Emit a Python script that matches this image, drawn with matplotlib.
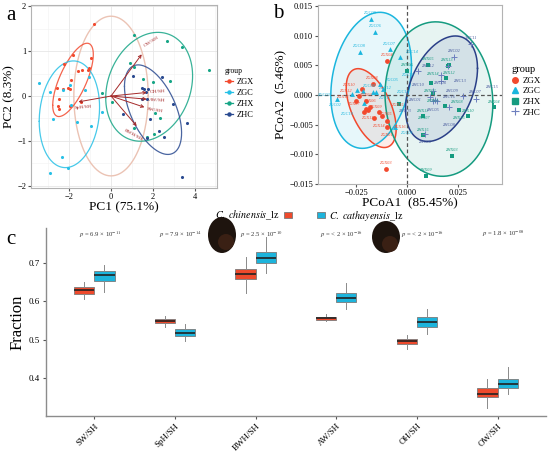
import numpy as np
import matplotlib
matplotlib.use("Agg")
import matplotlib.pyplot as plt
from matplotlib.lines import Line2D
from matplotlib.patches import Patch, Ellipse

plt.rcParams['font.family'] = ['Liberation Serif', 'DejaVu Serif']
plt.rcParams['mathtext.fontset'] = 'stix'

# ---------------- panel a : PCA biplot ----------------
grp_names = ["ZGX", "ZGC", "ZHX", "ZHC"]
col_a = {"ZGX": "#F2492E", "ZGC": "#27C0E6", "ZHX": "#16A586", "ZHC": "#2A4A90"}

pca_zgx_x = [-0.80, -1.82, -2.26, -1.39, -1.58, -0.96, -1.06, -1.12, -1.92, -2.08,
             -1.98, -2.29, -2.59, -2.51, -2.54, -2.48, -1.94, -1.44]
pca_zgx_y = [1.60, 0.92, 0.71, 0.57, 0.55, 0.85, 0.62, 0.59, 0.36, 0.17,
             0.15, 0.15, 0.17, -0.07, -0.23, -0.28, -0.22, -0.13]
pca_zgc_x = [-3.44, -2.94, -2.29, -1.95, -1.04, -1.23, -1.92, -2.77, -1.62, -0.98,
             -2.34, -2.05, -2.91, -0.42]
pca_zgc_y = [0.28, 0.08, 0.13, 0.25, 0.43, 0.13, -0.19, -0.52, -0.57, -0.67,
             -1.36, -1.60, -1.72, -0.36]
pca_zhx_x = [1.12, 2.67, 3.39, 4.67, 0.91, 1.09, 1.52, 2.03, 2.83, -0.42,
             0.06, 2.11, 2.35, 1.09, 2.06, 1.73]
pca_zhx_y = [1.35, 1.22, 1.10, 0.59, 0.74, 0.65, 0.39, 0.32, 0.33, 0.07,
             -0.14, -0.37, -0.48, -0.72, -0.84, -0.91]
pca_zhc_x = [1.07, 2.43, 1.47, 1.60, 1.76, 1.66, 1.47, 1.74, 2.99, 0.56,
             1.86, 3.63, 2.29, 2.53, 1.73, 3.39]
pca_zhc_y = [0.44, 0.42, 0.17, 0.15, 0.15, 0.09, -0.07, -0.07, -0.18, -0.39,
             -0.52, -0.61, -0.78, -0.92, -0.94, -1.80]

load_names = ["OW/SH", "OH/SH", "AW/SH", "SW/SH", "BWH/SH", "SpH/SH"]
load_x = [1.47, 1.71, 1.71, 1.60, 1.23, -1.56]
load_y = [0.93, 0.08, -0.07, -0.25, -0.67, -0.13]
circle_r = 1.78
ellipse_prob_a = 0.75

# ---------------- panel b : PCoA ----------------
col_b = {"ZGX": "#F2492E", "ZGC": "#1BB6DE", "ZHX": "#159B80", "ZHC": "#2A3F88"}
pcoa_zgx_lab = ["ZGX04", "ZGX08", "ZGX10", "ZGX12", "ZGX13", "ZGX02", "ZGX06", "ZGX07",
                "ZGX09", "ZGX11", "ZGX05", "ZGX14", "ZGX15", "ZGX16", "ZGX01", "ZGX03"]
pcoa_zgx_x = [-0.0097, -0.0170, -0.0224, -0.0236, -0.0252, -0.0200, -0.0183, -0.0200,
              -0.0211, -0.0192, -0.0162, -0.0138, -0.0126, -0.0097, -0.0097, -0.0105]
pcoa_zgx_y = [0.0058, 0.0019, 0.0010, -0.0001, -0.0011, -0.0010, -0.0020, -0.0023,
              -0.0028, -0.0025, -0.0039, -0.0029, -0.0035, -0.0044, -0.0054, -0.0125]
pcoa_zgc_lab = ["ZGC09", "ZGC06", "ZGC08", "ZGC07", "ZGC14", "ZGC05", "ZGC04", "ZGC02",
                "ZGC11", "ZGC12", "ZGC13", "ZGC03", "ZGC10", "ZGC15", "ZGC01"]
pcoa_zgc_x = [-0.0179, -0.0156, -0.0233, -0.0085, -0.0036, -0.0134, -0.0249, -0.0273,
              -0.0216, -0.0170, -0.0154, -0.0344, -0.0211, -0.0117, -0.0060]
pcoa_zgc_y = [0.0129, 0.0107, 0.0073, 0.0077, 0.0065, 0.0018, 0.00085, 0.0001,
              0.0007, 0.0005, 0.0005, -0.0007, -0.0014, 0.0010, -0.0055]
pcoa_zhx_lab = ["ZHX05", "ZHX13", "ZHX12", "ZHX14", "ZHX02", "ZHX01", "ZHX08", "ZHX16",
                "ZHX10", "ZHX04", "ZHX11", "ZHX15", "ZHX03", "ZHX09", "ZHX06", "ZHX07"]
pcoa_zhx_x = [0.0105, 0.0199, 0.0207, 0.0190, 0.0115, 0.0128, 0.0185, 0.0256,
              0.0300, 0.0428, 0.0079, 0.0079, 0.0221, 0.0092, 0.0000, -0.0041]
pcoa_zhx_y = [0.0051, 0.0049, 0.0051, 0.0028, 0.0021, 0.0004, -0.0019, -0.0025,
              -0.0036, -0.0021, -0.0036, -0.0068, -0.0103, -0.0137, 0.0041, -0.0016]
pcoa_zhc_lab = ["ZHC11", "ZHC02", "ZHC12", "ZHC04", "ZHC13", "ZHC10", "ZHC09", "ZHC01",
                "ZHC16", "ZHC05", "ZHC07", "ZHC15", "ZHC08", "ZHC06", "ZHC03"]
pcoa_zhc_x = [0.0313, 0.0231, 0.0202, 0.0166, 0.0166, 0.0054, 0.0128, 0.0136,
              0.0148, 0.0128, 0.0275, 0.0338, 0.0207, 0.0090, 0.0112]
pcoa_zhc_y = [0.0087, 0.0065, 0.0049, 0.0034, 0.0024, 0.0041, 0.0007, -0.0008,
              -0.0010, -0.0011, -0.0002, -0.0006, -0.0021, -0.0066, -0.0004]

# ---------------- panel c : boxplots ----------------
ratios = ["SW/SH", "SpH/SH", "BWH/SH", "AW/SH", "OH/SH", "OW/SH"]
# order: whislo, q1, med, q3, whishi
chin_box = [[0.605, 0.618, 0.628, 0.636, 0.650],
            [0.534, 0.543, 0.549, 0.554, 0.562],
            [0.622, 0.657, 0.670, 0.684, 0.715],
            [0.548, 0.550, 0.556, 0.560, 0.567],
            [0.477, 0.489, 0.496, 0.503, 0.512],
            [0.323, 0.351, 0.360, 0.374, 0.399]]
cath_box = [[0.625, 0.653, 0.668, 0.679, 0.693],
            [0.497, 0.509, 0.518, 0.528, 0.541],
            [0.673, 0.699, 0.712, 0.728, 0.767],
            [0.580, 0.599, 0.609, 0.621, 0.647],
            [0.516, 0.532, 0.546, 0.558, 0.579],
            [0.360, 0.375, 0.386, 0.399, 0.428]]
pvals = [r"$\it{p}$ = 6.9 × 10$^{-11}$", r"$\it{p}$ = 7.9 × 10$^{-14}$",
         r"$\it{p}$ = 2.5 × 10$^{-10}$", r"$\it{p}$ = < 2 × 10$^{-16}$",
         r"$\it{p}$ = < 2 × 10$^{-16}$", r"$\it{p}$ = 1.8 × 10$^{-08}$"]
sp_names = [r"$\it{C.\ chinensis}$_lz", r"$\it{C.\ cathayensis}$_lz"]
sp_cols = ["#EE4A2C", "#1DB4DC"]

# F(0.95; 2, n-1) quantiles, as used by stat_ellipse(type = "t")
qf95 = {12: 3.885, 13: 3.806, 14: 3.739, 15: 3.682, 16: 3.634, 17: 3.592}
# chi-square(2) quantile : -2 ln(1 - p)
chi2_a = -2 * np.log(1 - ellipse_prob_a)


def cov_trob(x, y, nu=5, maxit=25, tol=0.01):
    X = np.column_stack([x, y])
    n, p = X.shape
    loc = X.mean(0)
    w = np.ones(n)
    Xc = X - loc
    for _ in range(maxit):
        w0 = w
        Xc = X - loc
        A = np.sqrt(w / w.sum())[:, None] * Xc
        _, d, vt = np.linalg.svd(A, full_matrices=False)
        wX = Xc @ vt.T / d
        Q = (wX ** 2).sum(1)
        w = (nu + p) / (nu + Q)
        loc = (w[:, None] * X).sum(0) / w.sum()
        if np.all(np.abs(w - w0) < tol):
            break
    B = np.sqrt(w)[:, None] * Xc
    return loc, B.T @ B / n


def ellipse_t(x, y, npts=200):
    # ggplot2 stat_ellipse, type "t", level 0.95
    loc, cov = cov_trob(x, y)
    r = np.sqrt(2 * qf95[len(x) - 1])
    t = np.linspace(0, 2 * np.pi, npts)
    circ = np.column_stack([np.cos(t), np.sin(t)])
    pts = loc + r * circ @ np.linalg.cholesky(cov).T
    return pts[:, 0], pts[:, 1]


def ellipse_norm(x, y, npts=200):
    # ggbiplot group ellipse
    X = np.column_stack([x, y])
    cov = np.cov(X.T)
    t = np.linspace(-np.pi, np.pi, npts)
    circ = np.column_stack([np.cos(t), np.sin(t)])
    pts = X.mean(0) + np.sqrt(chi2_a) * circ @ np.linalg.cholesky(cov).T
    return pts[:, 0], pts[:, 1]


def repel_labels(ax, xs, ys, labs, cols, fs, placed):
    fig = ax.figure
    rend = fig.canvas.get_renderer()
    cands = [(0, 4), (-9, 3), (9, 3), (0, -6), (-9, -4), (9, -4), (0, 8), (0, -10),
             (-14, 0), (14, 0), (-12, 8), (12, 8), (-12, -8), (12, -8),
             (-16, 5), (16, 5), (-16, -5), (16, -5), (0, 12), (0, -13),
             (-20, 0), (20, 0), (-18, 10), (18, 10), (-18, -10), (18, -10)]
    for px, py, lab, c in zip(xs, ys, labs, cols):
        best = None
        for dx, dy in cands:
            t = ax.annotate(lab, (px, py), xytext=(dx, dy), textcoords="offset points",
                            fontsize=fs, color=c, ha="center", va="center",
                            style="italic", zorder=5)
            bb = t.get_window_extent(rend).expanded(1.2, 1.45)
            hit = sum(bb.overlaps(o) for o in placed)
            if best is None or hit < best[0]:
                if best is not None:
                    best[1].remove()
                best = (hit, t, bb)
            else:
                t.remove()
            if hit == 0:
                break
        placed.append(best[2])


fig = plt.figure(figsize=(5.5, 4.53), dpi=100)

# ===== a =====
axa = fig.add_axes([0.0564, 0.585, 0.338, 0.404])
pca = {"ZGX": (pca_zgx_x, pca_zgx_y), "ZGC": (pca_zgc_x, pca_zgc_y),
       "ZHX": (pca_zhx_x, pca_zhx_y), "ZHC": (pca_zhc_x, pca_zhc_y)}
t = np.linspace(0, 2 * np.pi, 300)
axa.plot(circle_r * np.cos(t), circle_r * np.sin(t), color="#EBC3B4", lw=1.0, zorder=1)
for g in grp_names:
    gx, gy = pca[g]
    axa.scatter(gx, gy, s=5, color=col_a[g], zorder=3, linewidths=0)
    ex, ey = ellipse_norm(gx, gy)
    axa.plot(ex, ey, color=col_a[g], lw=0.9, zorder=2, alpha=0.85)
for nm, lx, ly in zip(load_names, load_x, load_y):
    axa.annotate("", xy=(lx, ly), xytext=(0, 0),
                 arrowprops=dict(arrowstyle="->", color="#A52A2A", lw=0.7,
                                 mutation_scale=5, shrinkA=0, shrinkB=0), zorder=4)
    ang = np.degrees(np.arctan(ly / lx))
    if lx > 0 and nm != "BWH/SH":
        axa.text(lx * 1.3, ly * 1.3, nm, fontsize=3.8, color="#A52A2A", rotation=ang,
                 ha="center", va="center", zorder=5)
    elif nm == "BWH/SH":
        axa.text(lx * 0.85, ly * 1.28, nm, fontsize=3.8, color="#A52A2A", rotation=ang,
                 ha="center", va="center", zorder=5)
    else:
        axa.text(lx * 0.85, ly * 1.9, nm, fontsize=3.8, color="#A52A2A", rotation=ang,
                 ha="center", va="center", zorder=5)
axa.set_xlim(-3.83, 5.07)
axa.set_ylim(-2.05, 2.03)
axa.set_xticks([-2, 0, 2, 4])
axa.set_yticks([-2, -1, 0, 1, 2])
axa.set_xticks([-3, -1, 1, 3, 5], minor=True)
axa.set_yticks([-1.5, -0.5, 0.5, 1.5], minor=True)
axa.set_yticklabels(["\u22122", "\u22121", "0", "1", "2"])
axa.set_xticklabels(["\u22122", "0", "2", "4"])
axa.grid(True, which="major", color="#E6E6E6", lw=0.6)
axa.grid(True, which="minor", color="#F2F2F2", lw=0.4)
axa.set_axisbelow(True)
for s in axa.spines.values():
    s.set_color("#B3B3B3"); s.set_linewidth(0.8)
axa.tick_params(labelsize=6, length=2, color="#555555", pad=1.5, which="major")
axa.tick_params(which="minor", length=0)
axa.set_xlabel("PC1 (75.1%)", fontsize=9.5, labelpad=0.5)
axa.set_ylabel("PC2 (8.3%)", fontsize=9.5, labelpad=1)
ha_a = [Line2D([0], [0], color=col_a[g], marker="o", ms=2.2, lw=0.9) for g in grp_names]
la = axa.legend(ha_a, grp_names, title="group", loc="center left", bbox_to_anchor=(1.01, 0.52),
                frameon=False, fontsize=6, title_fontsize=5.5, handlelength=1.0,
                handletextpad=0.5, labelspacing=0.35, borderpad=0.2)
la._legend_box.align = "left"

# ===== b =====
axb = fig.add_axes([0.578, 0.5938, 0.3345, 0.395])
pcoa = {"ZGX": (pcoa_zgx_x, pcoa_zgx_y, pcoa_zgx_lab),
        "ZGC": (pcoa_zgc_x, pcoa_zgc_y, pcoa_zgc_lab),
        "ZHX": (pcoa_zhx_x, pcoa_zhx_y, pcoa_zhx_lab),
        "ZHC": (pcoa_zhc_x, pcoa_zhc_y, pcoa_zhc_lab)}
markers = {"ZGX": "o", "ZGC": "^", "ZHX": "s", "ZHC": "+"}
for g in grp_names:
    gx, gy, gl = pcoa[g]
    ex, ey = ellipse_t(gx, gy)
    axb.fill(ex, ey, color=col_b[g], alpha=0.10, lw=0, zorder=1)
    axb.plot(ex, ey, color=col_b[g], lw=1.1, zorder=2)
axb.axvline(0, color="#555555", lw=0.9, ls=(0, (3, 2)), zorder=3)
axb.axhline(0, color="#555555", lw=0.9, ls=(0, (3, 2)), zorder=3)
axb.set_xlim(-0.0439, 0.0466)
axb.set_ylim(-0.01506, 0.0152)
placed = []
for g in grp_names:
    gx, gy, gl = pcoa[g]
    if g == "ZHC":
        axb.scatter(gx, gy, s=22, marker="+", color="#6E7FBE", linewidths=0.7, zorder=4)
    else:
        axb.scatter(gx, gy, s=12, marker=markers[g], color=col_b[g], linewidths=0, zorder=4)
for g in grp_names:
    gx, gy, gl = pcoa[g]
    lc = col_b[g] if g != "ZHC" else "#4A5C9E"
    repel_labels(axb, gx, gy, gl, [lc] * len(gl), 3.2, placed)
axb.set_xticks([-0.025, 0.0, 0.025])
axb.set_xticklabels(["\u22120.025", "0.000", "0.025"])
yt = [-0.015, -0.010, -0.005, 0.0, 0.005, 0.010, 0.015]
axb.set_yticks(yt)
axb.set_yticklabels([("\u2212%.3f" % -v) if v < 0 else "%.3f" % v for v in yt])
for s in axb.spines.values():
    s.set_color("#B3B3B3"); s.set_linewidth(0.8)
axb.tick_params(labelsize=6, length=2, color="#555555", pad=1.5)
axb.set_xlabel("PCoA1  (85.45%)", fontsize=9.5, labelpad=0)
axb.set_ylabel("PCoA2  (5.46%)", fontsize=9.5, labelpad=1)
hb = []
for g in grp_names:
    if g == "ZHC":
        hb.append(Line2D([0], [0], ls="none", marker="+", ms=6, mew=0.8, color="#6E7FBE"))
    else:
        hb.append(Line2D([0], [0], ls="none", marker=markers[g], ms=4, color=col_b[g]))
lb = axb.legend(hb, grp_names, title="group", loc="center left", bbox_to_anchor=(1.02, 0.52),
                frameon=False, fontsize=6.5, title_fontsize=7.5, handlelength=0.8,
                handletextpad=0.4, labelspacing=0.25, borderpad=0.2)
lb._legend_box.align = "left"

# ===== c =====
axc = fig.add_axes([0.0836, 0.0817, 0.909, 0.415])
pos = np.arange(1, len(ratios) + 1)
for boxes, off, col in [(chin_box, -0.125, sp_cols[0]), (cath_box, 0.125, sp_cols[1])]:
    stats = [dict(whislo=b[0], q1=b[1], med=b[2], q3=b[3], whishi=b[4], fliers=[]) for b in boxes]
    axc.bxp(stats, positions=pos + off, widths=0.25, showfliers=False, showcaps=False,
            patch_artist=True,
            boxprops=dict(facecolor=col, edgecolor="#7A7A7A", lw=0.6),
            medianprops=dict(color="#222222", lw=1.2),
            whiskerprops=dict(color="#8A8A8A", lw=0.7))
for i, p in enumerate(pvals):
    axc.text(pos[i] + 0.07, 0.774, p, fontsize=4.8, ha="center", va="center", color="#333333")
axc.set_xlim(0.4, 6.6)
axc.set_ylim(0.302, 0.79)
axc.set_xticks(pos)
axc.set_xticklabels(ratios, rotation=45, ha="right", rotation_mode="anchor")
axc.set_yticks([0.4, 0.5, 0.6, 0.7])
axc.set_yticklabels(["0.4", "0.5", "0.6", "0.7"])
axc.spines["top"].set_visible(False)
axc.spines["right"].set_visible(False)
for s in ["left", "bottom"]:
    axc.spines[s].set_color("#8C8C8C"); axc.spines[s].set_linewidth(1.0)
axc.tick_params(labelsize=6.5, length=2.5, color="#555555", pad=2)
axc.set_ylabel("Fraction", fontsize=12, labelpad=2)
for i, (anchor, loc, mfirst) in enumerate([(0.540, "center right", False),
                                           (0.567, "center left", True)]):
    h = Patch(facecolor=sp_cols[i], edgecolor="#7A7A7A", lw=0.6)
    fig.legend([h], [sp_names[i]], loc=loc, bbox_to_anchor=(anchor, 0.524),
               frameon=False, fontsize=7.3, handlelength=0.8, handleheight=0.6,
               handletextpad=0.4, markerfirst=mfirst, borderpad=0.0)

# snail shell photos approximated by dark shapes
for cx, cy, w, h in [(222, 235, 28, 36), (386, 237, 28, 32)]:
    fx, fy = cx / 550, 1 - cy / 453
    fig.patches.append(Ellipse((fx, fy), w / 550, h / 453, transform=fig.transFigure,
                               facecolor="#1E140E", edgecolor="none", zorder=5))
    fig.patches.append(Ellipse((fx + 4 / 550, fy - 7 / 453), 16 / 550, 16 / 453,
                               transform=fig.transFigure, facecolor="#3A2014",
                               edgecolor="none", zorder=6))

fig.text(0.012, 0.965, "a", fontsize=15, va="center")
fig.text(0.497, 0.971, "b", fontsize=15, va="center")
fig.text(0.012, 0.472, "c", fontsize=15, va="center")

fig.savefig("out.png", dpi=100)
